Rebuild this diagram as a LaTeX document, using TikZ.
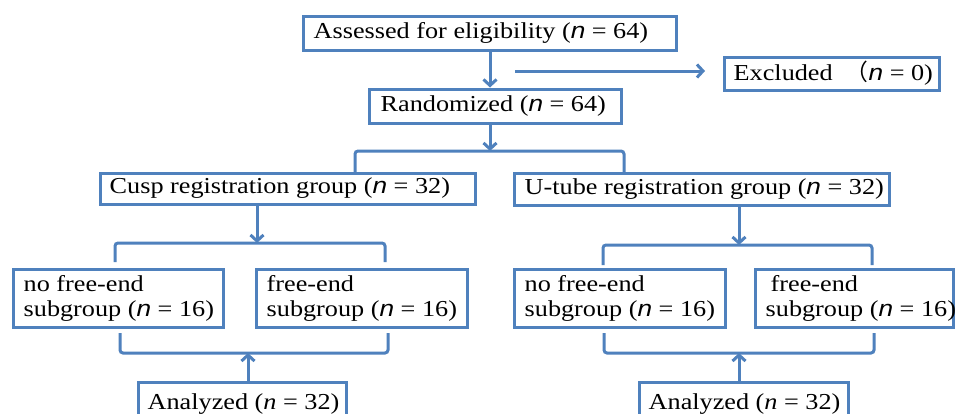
\documentclass[tikz,border=0pt]{standalone}
\usepackage{fontspec}
\setmainfont[FakeStretch=1.15]{Liberation Serif}
\newfontfamily\nfont[FakeStretch=1.15]{Liberation Sans}
\newfontfamily\cjk{Noto Sans CJK SC}
\usetikzlibrary{arrows.meta}
\definecolor{bl}{RGB}{79,129,189}
\newcommand{\myn}{{\nfont\itshape n}}
\newcommand{\mysn}{{\itshape n}}
\tikzset{
  box/.style={draw=bl, line width=3pt, rectangle, inner sep=0pt},
  lbl/.style={anchor=west, inner sep=0pt, align=left, font=\fontsize{22.8}{25}\selectfont},
  ln/.style={draw=bl, line width=3pt, rounded corners=3pt},
  arr/.style={draw=bl, line width=3pt, -{Straight Barb[length=6pt,width=13pt]}},
}
\begin{document}
\begin{tikzpicture}[x=1pt,y=-1pt]
\useasboundingbox (0,0) rectangle (955,413);
\clip (0,0) rectangle (955,413);
\fill[white] (0,0) rectangle (955,413);
% boxes
\node[box, minimum width=373pt, minimum height=34pt] (A) at (489.5,33) {};
\node[lbl] (At) at ([xshift=12pt]A.west) {Assessed for eligibility (\myn\ = 64)};
\node[box, minimum width=252pt, minimum height=34pt] (R) at (495,106) {};
\node[lbl] (Rt) at ([xshift=13pt]R.west) {Randomized (\myn\ = 64)};
\node[box, minimum width=215pt, minimum height=33pt] (E) at (831.5,73.5) {};
\node[lbl] (Et) at ([xshift=11pt]E.west) {Excluded \ {\cjk （}\myn\ = 0)};
\node[box, minimum width=375pt, minimum height=31pt] (C) at (287.5,188.5) {};
\node[lbl] (Ct) at ([xshift=11pt]C.west) {Cusp registration group (\myn\ = 32)};
\node[box, minimum width=375pt, minimum height=32pt] (U) at (701.5,189) {};
\node[lbl] (Ut) at ([xshift=12pt]U.west) {U-tube registration group (\myn\ = 32)};
\node[box, minimum width=210pt, minimum height=58pt] (S1) at (118,298) {};
\node[lbl] (S1t) at ([xshift=12pt]S1.west) {no free-end\\subgroup (\myn\ = 16)};
\node[box, minimum width=211pt, minimum height=58pt] (S2) at (361.5,298) {};
\node[lbl] (S2t) at ([xshift=12pt]S2.west) {free-end\\subgroup (\myn\ = 16)};
\node[box, minimum width=211pt, minimum height=58pt] (S3) at (619.5,298) {};
\node[lbl] (S3t) at ([xshift=12pt]S3.west) {no free-end\\subgroup (\myn\ = 16)};
\node[box, minimum width=198pt, minimum height=58pt] (S4) at (854,298) {};
\node[lbl] (S4t) at ([xshift=12pt]S4.west) {\hspace{5pt}free-end\\subgroup (\myn\ = 16)};
\node[box, minimum width=208pt, minimum height=40pt] (AL) at (242,402) {};
\node[lbl] (ALt) at ([xshift=11pt,yshift=-2pt]AL.west) {Analyzed (\mysn\ = 32)};
\node[box, minimum width=209pt, minimum height=40pt] (AR) at (743.5,402) {};
\node[lbl] (ARt) at ([xshift=11pt,yshift=-2pt]AR.west) {Analyzed (\mysn\ = 32)};
% coordinates
\coordinate (x1) at (515,71);
\coordinate (x2) at (705,71);
\coordinate (b0) at (490,151);
\coordinate (bl0) at (355,172);
\coordinate (br0) at (624,172);
\coordinate (c1) at (257,243);
\coordinate (cl) at (115,262);
\coordinate (cr) at (385,262);
\coordinate (u1) at (739,245);
\coordinate (ul) at (603,265);
\coordinate (ur) at (872,265);
\coordinate (d1) at (248,353);
\coordinate (dl) at (120,333);
\coordinate (dr) at (388,333);
\coordinate (e1) at (739,353);
\coordinate (el) at (604,333);
\coordinate (er) at (874,333);
% connectors
\draw[arr] (A.south -| b0) -- (R.north -| b0);
\draw[arr] (x1) -- (x2);
\draw[arr] (R.south -| b0) -- (b0);
\draw[ln] (bl0) -- (bl0 |- b0) -- (br0 |- b0) -- (br0);
\draw[arr] (C.south -| c1) -- (c1);
\draw[ln] (cl) -- (cl |- c1) -- (cr |- c1) -- (cr);
\draw[arr] (U.south -| u1) -- (u1);
\draw[ln] (ul) -- (ul |- u1) -- (ur |- u1) -- (ur);
\draw[ln] (dl) -- (dl |- d1) -- (dr |- d1) -- (dr);
\draw[arr] (AL.north -| d1) -- (d1);
\draw[ln] (el) -- (el |- e1) -- (er |- e1) -- (er);
\draw[arr] (AR.north -| e1) -- (e1);
\end{tikzpicture}
\end{document}
